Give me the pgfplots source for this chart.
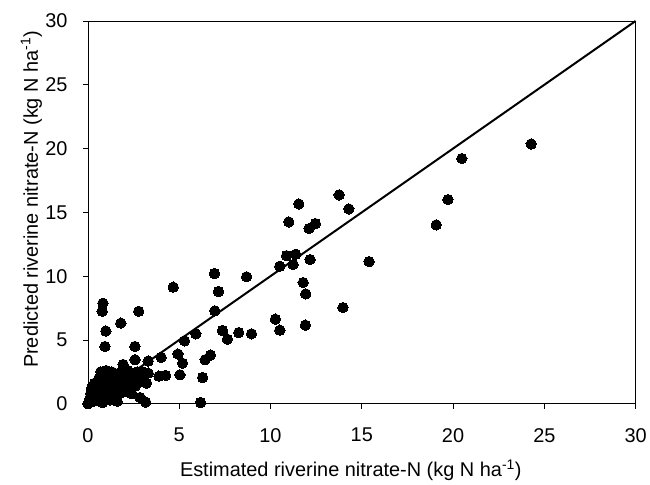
\documentclass[border=0pt]{standalone}
\usepackage{fontspec}
\setmainfont{Liberation Sans}
\usepackage{pgfplots}
\pgfplotsset{compat=1.18}
\begin{document}
\begin{tikzpicture}
\begin{axis}[
  scale only axis, width=548bp, height=383bp,
  xmin=0, xmax=30, ymin=0, ymax=30,
  xtick={0,5,...,30}, ytick={0,5,...,30},
  tick align=outside, tick pos=left, major tick length=5bp,
  axis line style={line width=0.8bp}, tick style={black, line width=0.8bp},
  /pgf/number format/assume math mode=true,
  tick label style={font=\fontsize{20}{24}\selectfont},
  yticklabel style={xshift=-12bp},
  xticklabel style={yshift=-16bp},
  label style={font=\fontsize{20}{24}\selectfont},
  xlabel={Estimated riverine nitrate-N (kg N ha\textsuperscript{-1})},
  ylabel={Predicted riverine nitrate-N (kg N ha\textsuperscript{-1})},
  xlabel style={at={(axis description cs:0.5,0)}, anchor=base, yshift=-73bp, xshift=-11bp},
  ylabel style={at={(axis description cs:0,0.5)}, anchor=base, yshift=50bp, xshift=13bp},
  clip=false,
]
\addplot[black, line width=2bp] coordinates {(0,0) (30,30)};
\addplot[only marks, mark=*, mark size=5.2bp, mark options={fill=black, draw=black, line width=0pt}] coordinates {
(24.28,20.36) (20.48,19.22) (19.72,16.0) (19.08,14.02) (15.40,11.14) (14.29,15.27) (13.76,16.37) (13.97,7.54)
(11.55,15.66) (11.0,14.25) (12.11,13.73) (12.46,14.12)
(10.88,11.61) (11.38,11.72) (10.51,10.78) (11.24,10.91) (12.17,11.30)
(6.93,10.21) (8.69,9.95) (11.79,9.50) (11.93,8.61) (7.15,8.80) (6.95,7.28)
(10.27,6.63) (10.51,5.77) (11.91,6.16) (7.37,5.74) (7.64,5.06) (8.26,5.58) (8.96,5.48)
(5.91,5.48) (5.29,4.93) (5.18,3.18) (5.04,2.27) (6.42,3.45) (6.71,3.81) (6.28,2.06) (6.17,0.10)
(4.67,9.14) (0.82,7.88) (0.78,7.25) (2.78,7.25) (1.80,6.32) (0.98,5.70) (0.93,4.49) (2.57,4.49)
(2.58,3.45) (1.93,3.08) (3.30,3.35) (4.01,3.64) (4.93,3.90) (3.89,2.16) (4.25,2.22) (3.30,2.40)
(3.21,1.62) (2.57,1.75) (2.85,0.49) (3.16,0.13) (2.94,2.53)
(0.05,0.10) (0.10,0.40) (0.15,0.80) (0.20,1.20) (0.00,0.00) (0.30,0.20) (0.25,0.60)
(0.40,1.00) (0.50,1.50) (0.60,2.00) (0.70,2.50) (0.80,2.30) (0.50,0.30) (0.60,0.80) (0.90,1.80)
(0.70,1.20) (0.90,0.50) (1.00,2.60) (1.00,1.40) (0.80,0.10)
(1.10,2.20) (1.20,1.00) (1.30,2.50) (1.40,1.60) (1.50,0.60) (1.60,2.00) (1.70,2.40) (1.80,1.30)
(1.90,0.90) (1.20,0.30) (1.50,1.10) (1.90,2.00) (2.00,1.50) (1.10,1.80) (1.60,0.20)
(2.10,2.30) (2.20,1.20) (2.30,1.80) (2.40,0.80) (2.50,2.00) (2.60,1.40) (2.70,2.50) (2.80,1.70)
(2.20,2.60) (2.90,2.10) (0.35,1.60) (0.15,0.30) (1.30,0.70)
};
\end{axis}
\path ([shift={(-88bp,-79bp)}]current axis.south west) rectangle ([shift={(14bp,21bp)}]current axis.north east);
\end{tikzpicture}
\end{document}
